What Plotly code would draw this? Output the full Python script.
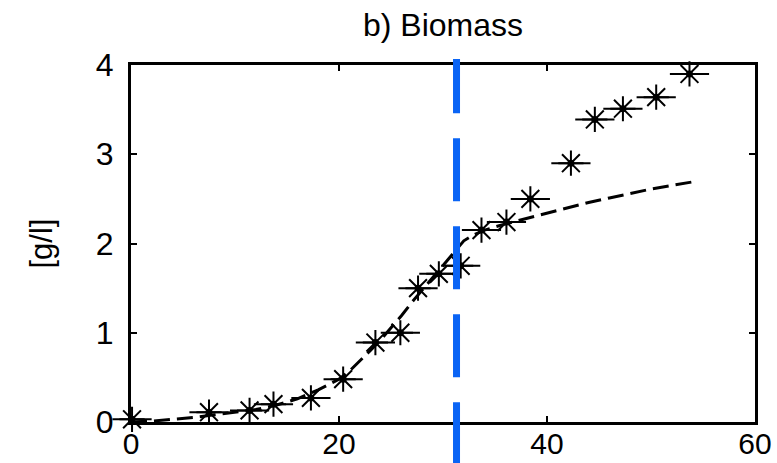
import plotly.graph_objects as go

# Measured biomass (stars)
meas_t = [0.1, 7.5, 11.4, 13.7, 17.3, 20.4, 23.5, 25.9, 27.6, 29.6, 31.7, 33.7, 36.1, 38.4, 42.3, 44.6, 47.3, 50.5, 53.7]
meas_x = [0.03, 0.11, 0.13, 0.20, 0.27, 0.48, 0.89, 1.00, 1.50, 1.66, 1.75, 2.15, 2.24, 2.50, 2.90, 3.39, 3.51, 3.64, 3.90]

# Model simulation (dashed curve)
model_t = [0, 2, 4, 6, 8, 10, 12, 14, 16, 18, 20, 21, 22, 23, 24, 25, 26, 27, 28, 29, 30, 31, 32, 33, 34, 36, 38, 40, 42, 44, 46, 48, 50, 52, 54]
model_x = [0.0, 0.01, 0.03, 0.05, 0.08, 0.11, 0.14, 0.19, 0.26, 0.36, 0.48, 0.57, 0.68, 0.80, 0.92, 1.05, 1.19, 1.34, 1.48, 1.62, 1.76, 1.90, 2.03, 2.10, 2.15, 2.22, 2.28, 2.34, 2.40, 2.46, 2.51, 2.56, 2.61, 2.65, 2.69]

switch_time = 31.3
x_ticks = [0, 20, 40, 60]
y_ticks = [0, 1, 2, 3, 4]
x_range = [0, 60]
y_range = [0, 4]

FONT = "Liberation Sans"

fig = go.Figure()
fig.add_trace(go.Scatter(x=model_t, y=model_x, mode="lines",
                         line=dict(color="black", width=3, dash="16px,7px"),
                         showlegend=False, hoverinfo="skip"))
fig.add_trace(go.Scatter(x=meas_t, y=meas_x, mode="markers", cliponaxis=False,
                         marker=dict(symbol="line-ew-open", size=28, color="black",
                                     line=dict(color="black", width=2)),
                         showlegend=False, hoverinfo="skip"))
fig.add_trace(go.Scatter(x=meas_t, y=meas_x, mode="markers", cliponaxis=False,
                         marker=dict(symbol="asterisk-open", size=21, color="black",
                                     line=dict(color="black", width=2)),
                         showlegend=False))
fig.add_trace(go.Scatter(x=meas_t, y=meas_x, mode="markers", cliponaxis=False,
                         marker=dict(symbol="circle", size=7, color="black"),
                         showlegend=False, hoverinfo="skip"))

xp = (switch_time - x_range[0]) / (x_range[1] - x_range[0])
fig.add_shape(type="line", xref="paper", yref="paper",
              x0=xp, x1=xp, y0=-0.121, y1=1.017,
              line=dict(color="#0A64F5", width=7, dash="63px,25px"),
              layer="above")

fig.add_annotation(text="[g/l]", xref="paper", yref="paper",
                   x=(41 - 131) / 624, y=0.5, xanchor="center", yanchor="middle",
                   textangle=-90, showarrow=False,
                   font=dict(family=FONT, size=31, color="black"))

axis_common = dict(showgrid=False, zeroline=False, showline=True, linecolor="black",
                   linewidth=3, mirror="ticks", ticks="inside", ticklen=6,
                   tickwidth=2, tickcolor="black", automargin=False)

fig.update_xaxes(range=x_range, tickvals=x_ticks, ticktext=[str(v) for v in x_ticks],
                 ticklabelstandoff=-7, tickfont=dict(family=FONT, size=30, color="black"),
                 **axis_common)
fig.update_yaxes(range=y_range, tickvals=y_ticks, ticktext=[str(v) for v in y_ticks],
                 ticklabelstandoff=8, tickfont=dict(family=FONT, size=32, color="black"),
                 **axis_common)

fig.update_layout(
    width=777, height=463,
    margin=dict(l=131, r=22, t=65, b=41, autoexpand=False),
    paper_bgcolor="white", plot_bgcolor="white",
    title=dict(text="b) Biomass", x=(443) / 777, xanchor="center",
               y=1 - 25 / 463, yanchor="middle", yref="container",
               font=dict(family=FONT, size=32, color="black")),
)

fig.write_html("out.html")
